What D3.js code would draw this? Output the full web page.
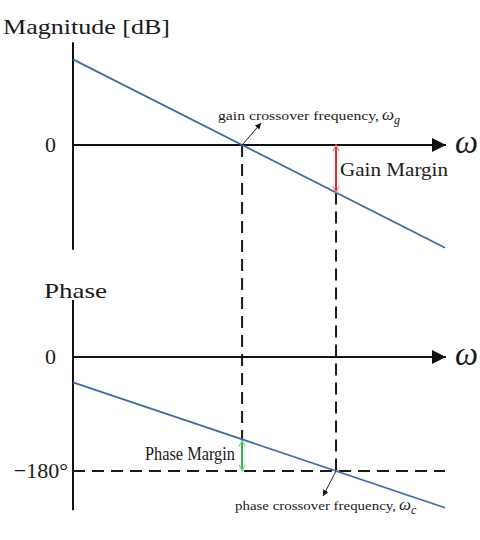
<!DOCTYPE html>
<html>
<head>
<meta charset="utf-8">
<script src="https://cdn.jsdelivr.net/npm/d3@7"></script>
<style>
  html, body { margin: 0; padding: 0; background: #fff; }
  svg { display: block; }
  text { font-family: "Liberation Serif", "DejaVu Serif", serif; fill: #1a1a1a; }
</style>
</head>
<body>
<script>
// ---------- data ----------
const omegaRange = [0, 100];              // frequency axis extent (arbitrary units)
const magnitudeOmega = [0, 100];          // magnitude line endpoints (omega)
const magnitudeDb = [20, -24];            // magnitude line endpoints (dB)
const phaseOmega = [0, 100];              // phase line endpoints (omega)
const phaseDeg = [-40, -238];             // phase line endpoints (deg)
const magAxisExtent = [24, -24.5];        // vertical magnitude axis extent (dB)
const phaseAxisExtent = [90, -242];       // vertical phase axis extent (deg)
const magTickValues = [0];
const magTickLabels = ["0"];
const phaseTickValues = [0, -180];
const phaseTickLabels = ["0", "\u2212180\u00B0"];
const phaseCrossoverLevel = -180;

// ---------- helpers ----------
const interp = (xs, ys, x) => ys[0] + (ys[1] - ys[0]) * (x - xs[0]) / (xs[1] - xs[0]);
const solve = (xs, ys, y) => xs[0] + (xs[1] - xs[0]) * (y - ys[0]) / (ys[1] - ys[0]);
const omegaG = solve(magnitudeOmega, magnitudeDb, 0);
const omegaC = solve(phaseOmega, phaseDeg, phaseCrossoverLevel);
const magAtC = interp(magnitudeOmega, magnitudeDb, omegaC);
const phaseAtG = interp(phaseOmega, phaseDeg, omegaG);

// ---------- layout ----------
const W = 480, H = 540;
const svg = d3.select("body").append("svg").attr("width", W).attr("height", H);

const x = d3.scaleLinear().domain(omegaRange).range([73, 433]);
const xLine = d3.scaleLinear().domain(omegaRange).range([73, 445]);
const yMag = d3.scaleLinear().domain([-25, 25]).range([252, 38]);
const yPh = d3.scaleLinear().domain([0, -180]).range([357, 471]);

const black = "#111";
const blue = "#3c6bb4";
const red = "#e8242a";
const green = "#2bb24c";

const defs = svg.append("defs");
function marker(id, color, w, h, orient) {
  defs.append("marker").attr("id", id)
    .attr("viewBox", "0 0 10 10").attr("refX", 10).attr("refY", 5)
    .attr("markerWidth", w).attr("markerHeight", h)
    .attr("markerUnits", "userSpaceOnUse").attr("orient", orient || "auto")
    .append("path").attr("d", "M0,0 L10,5 L0,10 Z").attr("fill", color);
}
marker("axisArrow", black, 14, 14);
marker("smallArrow", "#111", 6, 6);
function chevron(id, color) {
  defs.append("marker").attr("id", id)
    .attr("viewBox", "0 0 10 10").attr("refX", 9).attr("refY", 5)
    .attr("markerWidth", 8).attr("markerHeight", 8)
    .attr("markerUnits", "userSpaceOnUse").attr("orient", "auto-start-reverse")
    .append("path").attr("d", "M1,1 L9,5 L1,9").attr("fill", "none")
    .attr("stroke", color).attr("stroke-width", 1.4);
}
chevron("redChev", "#f07f7f");
chevron("greenChev", "#7fd893");

const line = d3.line().x(d => d[0]).y(d => d[1]);

// ---------- magnitude panel ----------
svg.append("text").attr("x", 3).attr("y", 34).attr("font-size", 22)
  .attr("textLength", 167).attr("lengthAdjust", "spacingAndGlyphs").text("Magnitude [dB]");

svg.append("path").attr("d", line(magAxisExtent.map(v => [x(0), yMag(v)])))
  .attr("stroke", black).attr("stroke-width", 2).attr("fill", "none");

svg.append("path").attr("d", line([[x(0), yMag(0)], [x(100) + 13, yMag(0)]]))
  .attr("stroke", black).attr("stroke-width", 2).attr("fill", "none")
  .attr("marker-end", "url(#axisArrow)");

svg.selectAll(".magTick").data(magTickValues).enter().append("text")
  .attr("x", 56).attr("y", d => yMag(d) + 7).attr("text-anchor", "end")
  .attr("font-size", 22).text((d, i) => magTickLabels[i]);

svg.append("text").attr("x", 455).attr("y", yMag(0) + 8).attr("font-size", 34)
  .attr("font-style", "italic").attr("textLength", 23).attr("lengthAdjust", "spacingAndGlyphs").text("\u03C9");

// dashed vertical lines
svg.append("path").attr("d", line([[xLine(omegaG), yMag(0)], [xLine(omegaG), yPh(phaseAtG)]]))
  .attr("stroke", "#1a1a1a").attr("stroke-width", 2).attr("stroke-dasharray", "12,7").attr("fill", "none");
svg.append("path").attr("d", line([[xLine(omegaC), yMag(magAtC)], [xLine(omegaC), yPh(phaseCrossoverLevel)]]))
  .attr("stroke", "#1a1a1a").attr("stroke-width", 2).attr("stroke-dasharray", "12,7").attr("fill", "none");

// magnitude line
svg.append("path").attr("d", line(magnitudeOmega.map((o, i) => [xLine(o), yMag(magnitudeDb[i])])))
  .attr("stroke", blue).attr("stroke-width", 1.8).attr("fill", "none");

// gain margin
svg.append("path").attr("d", line([[xLine(omegaC), yMag(0)], [xLine(omegaC), yMag(magAtC)]]))
  .attr("stroke", red).attr("stroke-width", 2).attr("fill", "none")
  .attr("marker-start", "url(#redChev)").attr("marker-end", "url(#redChev)");
svg.append("text").attr("x", 340).attr("y", 176).attr("font-size", 18)
  .attr("textLength", 108).attr("lengthAdjust", "spacingAndGlyphs").text("Gain Margin");

// gain crossover annotation
svg.append("path").attr("d", line([[xLine(omegaG), yMag(0)], [xLine(omegaG) + 19, yMag(0) - 22]]))
  .attr("stroke", "#222").attr("stroke-width", 1).attr("fill", "none").attr("marker-end", "url(#smallArrow)");
const gTxt = svg.append("text").attr("x", 218).attr("y", 120).attr("font-size", 11.5);
gTxt.append("tspan").attr("textLength", 161).attr("lengthAdjust", "spacingAndGlyphs").text("gain crossover frequency,");
gTxt.append("tspan").attr("dx", 3).attr("font-size", 17).attr("font-style", "italic").text("\u03C9");
gTxt.append("tspan").attr("dy", 4).attr("font-size", 12).attr("font-style", "italic").text("g");

// ---------- phase panel ----------
svg.append("text").attr("x", 44).attr("y", 298).attr("font-size", 22)
  .attr("textLength", 63).attr("lengthAdjust", "spacingAndGlyphs").text("Phase");

svg.append("path").attr("d", line(phaseAxisExtent.map(v => [x(0), yPh(v)])))
  .attr("stroke", black).attr("stroke-width", 2).attr("fill", "none");

svg.append("path").attr("d", line([[x(0), yPh(0)], [x(100) + 13, yPh(0)]]))
  .attr("stroke", black).attr("stroke-width", 2).attr("fill", "none")
  .attr("marker-end", "url(#axisArrow)");

svg.selectAll(".phTick").data(phaseTickValues).enter().append("text")
  .attr("x", (d, i) => i === 0 ? 56 : 68).attr("y", d => yPh(d) + 7).attr("text-anchor", "end")
  .attr("font-size", 22).text((d, i) => phaseTickLabels[i]);

svg.append("text").attr("x", 455).attr("y", yPh(0) + 8).attr("font-size", 34)
  .attr("font-style", "italic").attr("textLength", 23).attr("lengthAdjust", "spacingAndGlyphs").text("\u03C9");

// -180 dashed line
svg.append("path").attr("d", line([[x(0), yPh(phaseCrossoverLevel)], [xLine(100), yPh(phaseCrossoverLevel)]]))
  .attr("stroke", "#1a1a1a").attr("stroke-width", 2).attr("stroke-dasharray", "12,7").attr("fill", "none");

// phase line
svg.append("path").attr("d", line(phaseOmega.map((o, i) => [xLine(o), yPh(phaseDeg[i])])))
  .attr("stroke", blue).attr("stroke-width", 1.8).attr("fill", "none");

// phase margin
svg.append("path").attr("d", line([[xLine(omegaG), yPh(phaseAtG) + 1], [xLine(omegaG), yPh(phaseCrossoverLevel)]]))
  .attr("stroke", green).attr("stroke-width", 2).attr("fill", "none")
  .attr("marker-start", "url(#greenChev)").attr("marker-end", "url(#greenChev)");
svg.append("text").attr("x", 235).attr("y", 460).attr("font-size", 18).attr("text-anchor", "end")
  .attr("textLength", 90).attr("lengthAdjust", "spacingAndGlyphs").text("Phase Margin");

// phase crossover annotation
svg.append("path").attr("d", line([[xLine(omegaC), yPh(phaseCrossoverLevel)], [xLine(omegaC) - 13, yPh(phaseCrossoverLevel) + 25]]))
  .attr("stroke", "#222").attr("stroke-width", 1).attr("fill", "none").attr("marker-end", "url(#smallArrow)");
const cTxt = svg.append("text").attr("x", 235).attr("y", 510).attr("font-size", 11.5);
cTxt.append("tspan").attr("textLength", 161).attr("lengthAdjust", "spacingAndGlyphs").text("phase crossover frequency,");
cTxt.append("tspan").attr("dx", 3).attr("font-size", 17).attr("font-style", "italic").text("\u03C9");
cTxt.append("tspan").attr("dy", 4).attr("font-size", 12).attr("font-style", "italic").text("c");
</script>
</body>
</html>
